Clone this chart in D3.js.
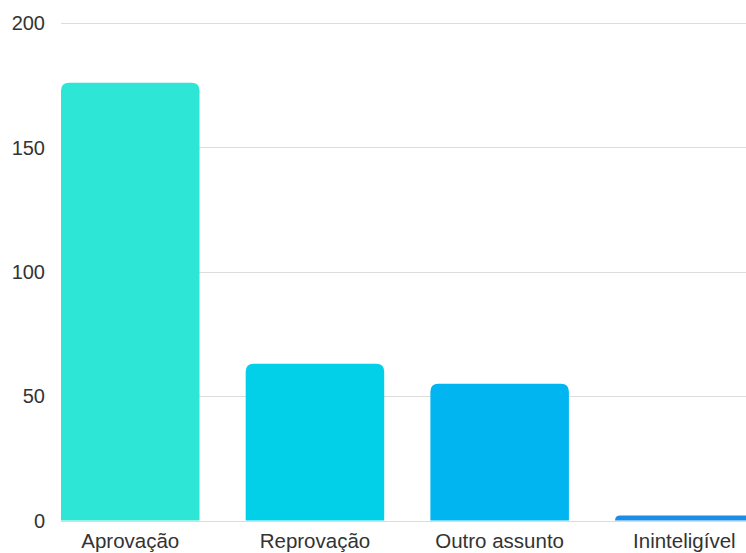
<!DOCTYPE html>
<html>
<head>
<meta charset="utf-8">
<script src="https://cdn.jsdelivr.net/npm/d3@7"></script>
<style>
  html, body { margin: 0; padding: 0; background: #fff; }
  svg { display: block; }
  text { font-family: "Liberation Sans", Arial, sans-serif; fill: #333; }
</style>
</head>
<body>
<svg id="chart" width="746" height="553"></svg>
<script>
const categories = ["Aprovação", "Reprovação", "Outro assunto", "Ininteligível"];
const values = [176, 63, 55, 2];
const colors = ["#2ee6d6", "#02d0e9", "#01b5f1", "#1a8de8"];
const yTicks = [0, 50, 100, 150, 200];

const svg = d3.select("#chart");
const W = 746;

const x = d3.scaleBand()
  .domain(categories)
  .range([61, 753.6])
  .paddingInner(0.25)
  .paddingOuter(0);

const y = d3.scaleLinear()
  .domain([0, 200])
  .range([520.5, 23]);

// horizontal gridlines
svg.append("g")
  .selectAll("line")
  .data(yTicks)
  .join("line")
  .attr("x1", 61)
  .attr("x2", W)
  .attr("y1", d => Math.round(y(d)) + 0.5)
  .attr("y2", d => Math.round(y(d)) + 0.5)
  .attr("stroke", "#dcdcdc")
  .attr("stroke-width", 1);

// y tick labels
svg.append("g")
  .selectAll("text")
  .data(yTicks)
  .join("text")
  .attr("x", 45)
  .attr("y", d => y(d))
  .attr("dy", "0.36em")
  .attr("text-anchor", "end")
  .attr("font-size", 20)
  .text(d => d);

// bars with rounded top corners
function barPath(x0, w, yTop, yBot) {
  const r = Math.min(8, yBot - yTop, w / 2);
  return `M${x0},${yBot}V${yTop + r}Q${x0},${yTop} ${x0 + r},${yTop}` +
    `H${x0 + w - r}Q${x0 + w},${yTop} ${x0 + w},${yTop + r}V${yBot}Z`;
}

svg.append("g")
  .selectAll("path")
  .data(categories)
  .join("path")
  .attr("d", (c, i) => barPath(x(c), x.bandwidth(), y(values[i]), y(0)))
  .attr("fill", (c, i) => colors[i]);

// category labels
svg.append("g")
  .selectAll("text")
  .data(categories)
  .join("text")
  .attr("x", c => x(c) + x.bandwidth() / 2)
  .attr("y", 548)
  .attr("text-anchor", "middle")
  .attr("font-size", 20.5)
  .text(c => c);
</script>
</body>
</html>
